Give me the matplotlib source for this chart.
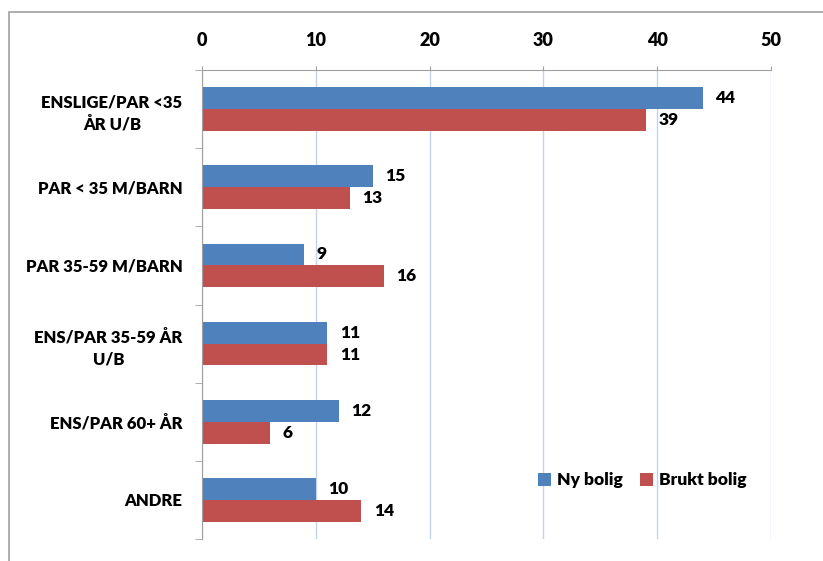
import matplotlib.pyplot as plt
import numpy as np
from matplotlib.patches import Rectangle

categories = ["ENSLIGE/PAR <35\nÅR U/B", "PAR < 35 M/BARN", "PAR 35-59 M/BARN",
              "ENS/PAR 35-59 ÅR\nU/B", "ENS/PAR 60+ ÅR", "ANDRE"]
ny_bolig = [44, 15, 9, 11, 12, 10]
brukt_bolig = [39, 13, 16, 11, 6, 14]
series_names = ["Ny bolig", "Brukt bolig"]

blue = "#4f81bd"
red = "#c0504d"
grey = "#a0a0a0"

plt.rcParams['font.family'] = ['Lato', 'DejaVu Sans']

fig = plt.figure(figsize=(8.23, 5.61), dpi=100)
ax = fig.add_axes([202 / 823, 1 - 539 / 561, 569 / 823, 469 / 561])

# outer frame, cut off at right and bottom like the reference
fig.patches.append(Rectangle((9 / 823, -0.1), 1.2, 1 + 0.1 - 12 / 561,
                             transform=fig.transFigure, fill=False,
                             edgecolor=grey, linewidth=1.2))

y = np.arange(len(categories))
h = 0.28
b1 = ax.barh(y - h / 2, ny_bolig, height=h, color=blue, label=series_names[0])
b2 = ax.barh(y + h / 2, brukt_bolig, height=h, color=red, label=series_names[1])

for bars, vals in ((b1, ny_bolig), (b2, brukt_bolig)):
    for bar, v in zip(bars, vals):
        ax.annotate(str(v), (v, bar.get_y() + bar.get_height() / 2),
                    xytext=(9, 0), textcoords="offset points",
                    ha="left", va="center", fontsize=12.5, fontweight="heavy")

ax.set_xlim(0, 50)
ax.set_ylim(len(categories) - 0.5, -0.5)
ax.xaxis.tick_top()
ax.set_xticks(range(0, 51, 10))
ax.tick_params(axis="x", length=3, color=grey, labelsize=13, pad=12)
for lab in ax.get_xticklabels():
    lab.set_fontweight("heavy")

ax.set_yticks(y)
ax.set_yticklabels(categories, fontsize=12, fontweight="heavy",
                   multialignment="center", linespacing=1.45)
ax.tick_params(axis="y", length=0, pad=14)
ax.set_yticks(np.arange(-0.5, len(categories)), minor=True)
ax.tick_params(axis="y", which="minor", length=5, color=grey)

ax.grid(axis="x", color="#c3d3ec", linewidth=1)
ax.set_axisbelow(True)
for side in ("right", "bottom"):
    ax.spines[side].set_visible(False)
for side in ("top", "left"):
    ax.spines[side].set_color(grey)

ax.legend(loc="lower right", bbox_to_anchor=(0.985, 0.075), ncol=2, frameon=False,
          handlelength=0.75, handleheight=0.75, handletextpad=0.35, columnspacing=1.0,
          prop={"weight": "heavy", "size": 12.5})

fig.savefig("out.png", dpi=100)
